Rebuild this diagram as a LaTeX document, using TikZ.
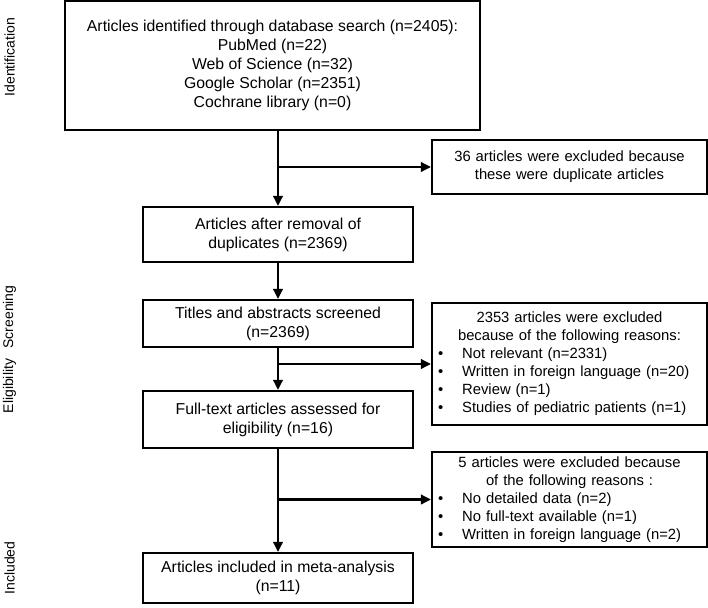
\documentclass[tikz,border=0pt]{standalone}
\usepackage{fontspec}
\setmainfont{Liberation Sans}
\usepackage{tikz}
\usetikzlibrary{arrows.meta, positioning}
\newcommand{\exitem}[1]{\makebox[\linewidth][l]{\hspace{4pt}\textbullet\hspace{19pt}#1}}

\begin{document}
\begin{tikzpicture}[x=1pt, y=-1pt,
  flowbox/.style={rectangle, draw, line width=2.2pt, inner sep=0pt,
                  align=center, font=\fontsize{15.8}{19}\selectfont},
  exclbox/.style={flowbox, minimum width=275, text width=271,
                  font=\fontsize{14.8}{18}\selectfont},
  stage/.style={rotate=90, font=\fontsize{14}{16}\selectfont},
  arr/.style={line width=2.2pt, -{Triangle[length=10pt,width=9.5pt]}}
]
\useasboundingbox (0,0) rectangle (708,607);
% stage labels (left)
\node[stage] (lid)  at (9.5,57)  {Identification};
\node[stage] (lsc)  at (9.5,317) {Screening};
\node[stage] (lel)  at (9.5,386) {Eligibility};
\node[stage] (lin)  at (9.5,568) {Included};
% main column
\node[flowbox, minimum width=415, minimum height=129] (search) at (272.5,65.5)
  {Articles identified through database search (n=2405):\\
   PubMed (n=22)\\ Web of Science (n=32)\\ Google Scholar (n=2351)\\
   Cochrane library (n=0)};
\node[flowbox, minimum width=270, minimum height=55] (dedup) at (278,234.5)
  {Articles after removal of\\ duplicates (n=2369)};
\node[flowbox, minimum width=270, minimum height=47] (screen) at (278,323.5)
  {Titles and abstracts screened\\ (n=2369)};
\node[flowbox, minimum width=270, minimum height=57] (full) at (278,419.5)
  {Full-text articles assessed for\\ eligibility (n=16)};
\node[flowbox, minimum width=270, minimum height=50] (incl) at (278,578)
  {Articles included in meta-analysis\\ (n=11)};
% exclusion boxes (right)
\node[exclbox, minimum height=54] (ex1) at (569.5,167)
  {36 articles were excluded because\\ these were duplicate articles};
\node[exclbox, minimum height=122] (ex2) at (569.5,364)
  {2353 articles were excluded\\ because of the following reasons:\\
   \exitem{Not relevant (n=2331)}\\
   \exitem{Written in foreign language (n=20)}\\
   \exitem{Review (n=1)}\\
   \exitem{Studies of pediatric patients (n=1)}};
\node[exclbox, minimum height=95] (ex3) at (569.5,499.5)
  {5 articles were excluded because\\ of the following reasons :\\
   \exitem{No detailed data (n=2)}\\
   \exitem{No full-text available (n=1)}\\
   \exitem{Written in foreign language (n=2)}};
% branch points
\coordinate (b1) at (dedup |- ex1);
\coordinate (b2) at (dedup |- ex2);
\coordinate (b3) at (dedup |- ex3);
% connectors
\draw[arr] (search.south -| dedup) -- (dedup);
\draw[arr] (b1) -- (ex1);
\draw[arr] (dedup) -- (screen);
\draw[arr] (screen) -- (full);
\draw[arr] (b2) -- (ex2);
\draw[arr] (full) -- (incl);
\draw[arr] (b3) -- (ex3);
\end{tikzpicture}
\end{document}
